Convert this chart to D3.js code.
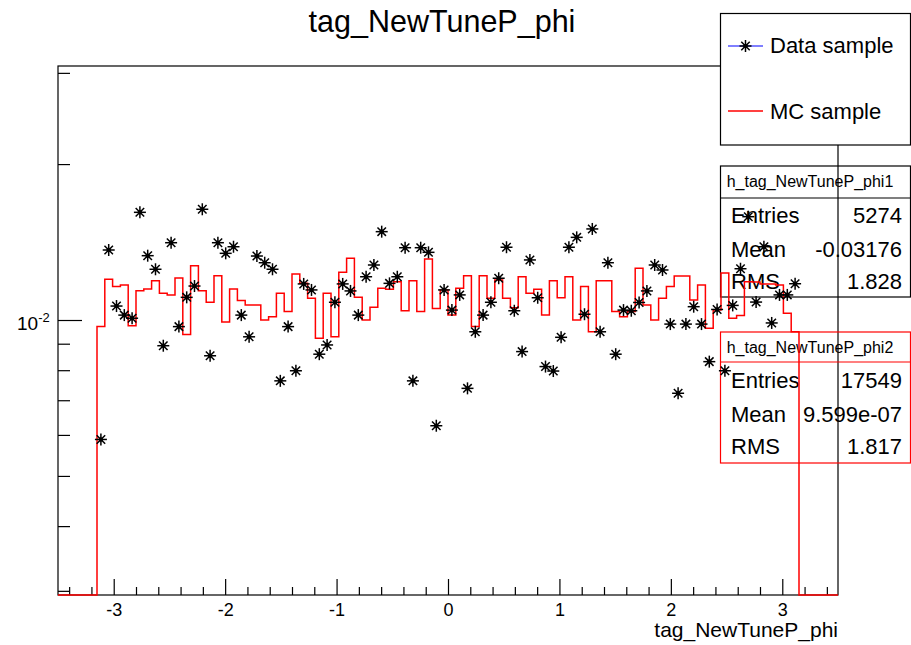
<!DOCTYPE html>
<html>
<head>
<meta charset="utf-8">
<script src="https://cdn.jsdelivr.net/npm/d3@7"></script>
<style>
  body { margin: 0; background: #fff; }
  svg { display: block; font-family: "Liberation Sans", Arial, sans-serif; }
</style>
</head>
<body>
<div id="chart"></div>
<script>
// binning of both histograms: 100 bins on [-3.5, 3.5], only bins 5..94 are filled
const nBins = 100;
const xRange = [-3.5, 3.5];
const firstBin = 5;

// normalised MC histogram (red line), bins 5..94
const mcValues = [
    0.00971, 0.01198, 0.01160, 0.01168, 0.00975, 0.01139, 0.01148, 0.01191, 0.01126, 0.01118,
    0.01205, 0.00938, 0.01273, 0.01139, 0.01082, 0.01218, 0.00991, 0.01148, 0.01090, 0.01069,
    0.01069, 0.01000, 0.01015, 0.01126, 0.01038, 0.01227, 0.01177, 0.01101, 0.00922, 0.01126,
    0.00928, 0.01236, 0.01316, 0.01106, 0.01000, 0.01058, 0.01151, 0.01146, 0.01186, 0.01042,
    0.01191, 0.01038, 0.01311, 0.01053, 0.01143, 0.01022, 0.01151, 0.01218, 0.00971, 0.01218,
    0.01101, 0.01195, 0.01101, 0.01056, 0.01212, 0.01126, 0.01146, 0.01022, 0.01191, 0.01104,
    0.01212, 0.01000, 0.01160, 0.00949, 0.01191, 0.01191, 0.01038, 0.01015, 0.01038, 0.01258,
    0.01069, 0.01000, 0.01101, 0.01160, 0.01216, 0.01216, 0.01093, 0.01168, 0.00964, 0.01045,
    0.01232, 0.01008, 0.01020, 0.01186, 0.01184, 0.01174, 0.01174, 0.01168, 0.01030, 0.00949
];

// normalised data histogram (star markers), bins 5..94
const dataValues = [
    0.00588, 0.01365, 0.01064, 0.01022, 0.01008, 0.01614, 0.01331, 0.01253, 0.00892, 0.01410,
    0.00971, 0.01106, 0.01163, 0.01636, 0.00853, 0.01410, 0.01345, 0.01385, 0.01022, 0.00928,
    0.01329, 0.01290, 0.01253, 0.00763, 0.00971, 0.00798, 0.01174, 0.01143, 0.00859, 0.00895,
    0.01082, 0.01174, 0.01138, 0.01022, 0.01212, 0.01277, 0.01481, 0.01177, 0.01212, 0.01379,
    0.00763, 0.01379, 0.01351, 0.00625, 0.01143, 0.01045, 0.01118, 0.00738, 0.00949, 0.01022,
    0.01082, 0.01204, 0.01382, 0.01042, 0.00869, 0.01306, 0.01104, 0.00813, 0.00797, 0.00926,
    0.01382, 0.01444, 0.01026, 0.01499, 0.00949, 0.01290, 0.00859, 0.01045, 0.01042, 0.01081,
    0.01138, 0.01277, 0.01249, 0.00982, 0.00722, 0.00982, 0.01061, 0.00982, 0.00831, 0.01048,
    0.00798, 0.01067, 0.01256, 0.01583, 0.01083, 0.01385, 0.00987, 0.01118, 0.01118, 0.01175
];

const yRange = [0.002945, 0.03093];
const xMajorTicks = [-3, -2, -1, 0, 1, 2, 3];
const xMinorTicks = d3.range(-17, 18).map(i => i / 5).filter(v => !Number.isInteger(v));
const yMajorTicks = [0.01];
const yMinorTicks = [0.003, 0.004, 0.005, 0.006, 0.007, 0.008, 0.009, 0.02, 0.03];

const stats1 = [['Entries', '5274'], ['Mean', '-0.03176'], ['RMS', '1.828']];
const stats2 = [['Entries', '17549'], ['Mean', '9.599e-07'], ['RMS', '1.817']];

const width = 911;
const height = 645;
const frame = { left: 58, right: 838, top: 66, bottom: 595 };

const svg = d3.select('#chart')
    .append('svg')
    .attr('width', width)
    .attr('height', height);

const x = d3.scaleLinear().domain(xRange).range([frame.left, frame.right]);
const y = d3.scaleLog().domain(yRange).range([frame.bottom, frame.top]);

const binWidth = (xRange[1] - xRange[0]) / nBins;
const binValue = (arr, i) => (i >= firstBin && i < firstBin + arr.length) ? arr[i - firstBin] : 0;
const yOf = v => v > 0 ? y(v) : frame.bottom;

// title
svg.append('text')
    .attr('x', 442)
    .attr('y', 32)
    .attr('text-anchor', 'middle')
    .style('font-size', '30.5px')
    .text('tag_NewTuneP_phi');

// frame
svg.append('rect')
    .attr('x', frame.left)
    .attr('y', frame.top)
    .attr('width', frame.right - frame.left)
    .attr('height', frame.bottom - frame.top)
    .attr('fill', 'none')
    .attr('stroke', '#000')
    .attr('stroke-width', 1.2);

// x axis
const xAxisMajor = d3.axisBottom(x)
    .tickValues(xMajorTicks)
    .tickSize(-16)
    .tickPadding(8)
    .tickFormat(d => String(d));
const xAxisMinor = d3.axisBottom(x)
    .tickValues(xMinorTicks)
    .tickSize(-8)
    .tickFormat('');

const gx = svg.append('g').attr('transform', `translate(0,${frame.bottom})`);
gx.call(xAxisMajor);
svg.append('g').attr('transform', `translate(0,${frame.bottom})`).call(xAxisMinor);

svg.selectAll('.domain').remove();
svg.selectAll('.tick line').attr('stroke', '#000').attr('stroke-width', 1.2);
gx.selectAll('.tick text')
    .style('font-size', '18px')
    .style('font-family', '"Liberation Sans", Arial, sans-serif')
    .attr('fill', '#000');

svg.append('text')
    .attr('x', frame.right)
    .attr('y', 637)
    .attr('text-anchor', 'end')
    .style('font-size', '21px')
    .text('tag_NewTuneP_phi');

// y axis
const gyMajor = svg.append('g')
    .attr('transform', `translate(${frame.left},0)`)
    .call(d3.axisLeft(y).tickValues(yMajorTicks).tickSize(-24).tickFormat(''));
const gyMinor = svg.append('g')
    .attr('transform', `translate(${frame.left},0)`)
    .call(d3.axisLeft(y).tickValues(yMinorTicks).tickSize(-12).tickFormat(''));
[gyMajor, gyMinor].forEach(g => {
    g.select('.domain').remove();
    g.selectAll('.tick line').attr('stroke', '#000').attr('stroke-width', 1.2);
});

yMajorTicks.forEach(v => {
    const lbl = svg.append('text')
        .attr('x', 17)
        .attr('y', y(v) + 10)
        .style('font-size', '19px');
    lbl.append('tspan').text('10');
    lbl.append('tspan')
        .attr('dy', -8)
        .style('font-size', '13px')
        .text('-' + Math.round(-Math.log10(v)));
});

// stats boxes (no fill)
function statsBox(top, bottom, sep, color, name, rows, rowY) {
    const g = svg.append('g');
    g.append('rect')
        .attr('x', 720.5).attr('y', top)
        .attr('width', 190).attr('height', bottom - top)
        .attr('fill', 'none').attr('stroke', color).attr('stroke-width', 1.2);
    g.append('line')
        .attr('x1', 720.5).attr('x2', 910.5)
        .attr('y1', sep).attr('y2', sep)
        .attr('stroke', color).attr('stroke-width', 1.2);
    g.append('text')
        .attr('x', 810).attr('y', top + 21)
        .attr('text-anchor', 'middle')
        .style('font-size', '16px')
        .text(name);
    rows.forEach((r, i) => {
        g.append('text')
            .attr('x', 731).attr('y', rowY[i])
            .style('font-size', '22px')
            .text(r[0]);
        g.append('text')
            .attr('x', 902).attr('y', rowY[i])
            .attr('text-anchor', 'end')
            .style('font-size', '22px')
            .text(r[1]);
    });
}
statsBox(166, 297, 198, '#000', 'h_tag_NewTuneP_phi1', stats1, [223, 256.5, 289]);
statsBox(332, 463, 362, '#ff0000', 'h_tag_NewTuneP_phi2', stats2, [388, 422, 454]);

// MC histogram
const mcPoints = [];
d3.range(nBins).forEach(i => {
    const x0 = xRange[0] + i * binWidth;
    const yy = yOf(binValue(mcValues, i));
    mcPoints.push([x(x0), yy], [x(x0 + binWidth), yy]);
});
svg.append('path')
    .attr('d', d3.line()(mcPoints))
    .attr('fill', 'none')
    .attr('stroke', '#ff0000')
    .attr('stroke-width', 1.5);

// data markers
function star(g, cx, cy, r) {
    [0, 45, 90, 135].forEach(a => {
        const rad = a * Math.PI / 180;
        g.append('line')
            .attr('x1', cx - r * Math.cos(rad)).attr('y1', cy - r * Math.sin(rad))
            .attr('x2', cx + r * Math.cos(rad)).attr('y2', cy + r * Math.sin(rad))
            .attr('stroke', '#000').attr('stroke-width', 1.5);
    });
    g.append('circle').attr('cx', cx).attr('cy', cy).attr('r', 2.3).attr('fill', '#000');
}

const gStars = svg.append('g');
dataValues.forEach((v, j) => {
    const i = j + firstBin;
    const xc = xRange[0] + (i + 0.5) * binWidth;
    star(gStars, x(xc), y(v), 6);
});

// legend (opaque)
const leg = svg.append('g');
leg.append('rect')
    .attr('x', 720.5).attr('y', 13.5)
    .attr('width', 190).attr('height', 131.5)
    .attr('fill', '#fff').attr('stroke', '#000').attr('stroke-width', 1.2);
leg.append('line')
    .attr('x1', 728).attr('x2', 763).attr('y1', 46).attr('y2', 46)
    .attr('stroke', '#0000ff').attr('stroke-width', 1.2);
star(leg, 745.5, 46, 6);
leg.append('text').attr('x', 770).attr('y', 53).style('font-size', '22px').text('Data sample');
leg.append('line')
    .attr('x1', 728).attr('x2', 763).attr('y1', 111).attr('y2', 111)
    .attr('stroke', '#ff0000').attr('stroke-width', 1.5);
leg.append('text').attr('x', 770).attr('y', 119).style('font-size', '22px').text('MC sample');
</script>
</body>
</html>
